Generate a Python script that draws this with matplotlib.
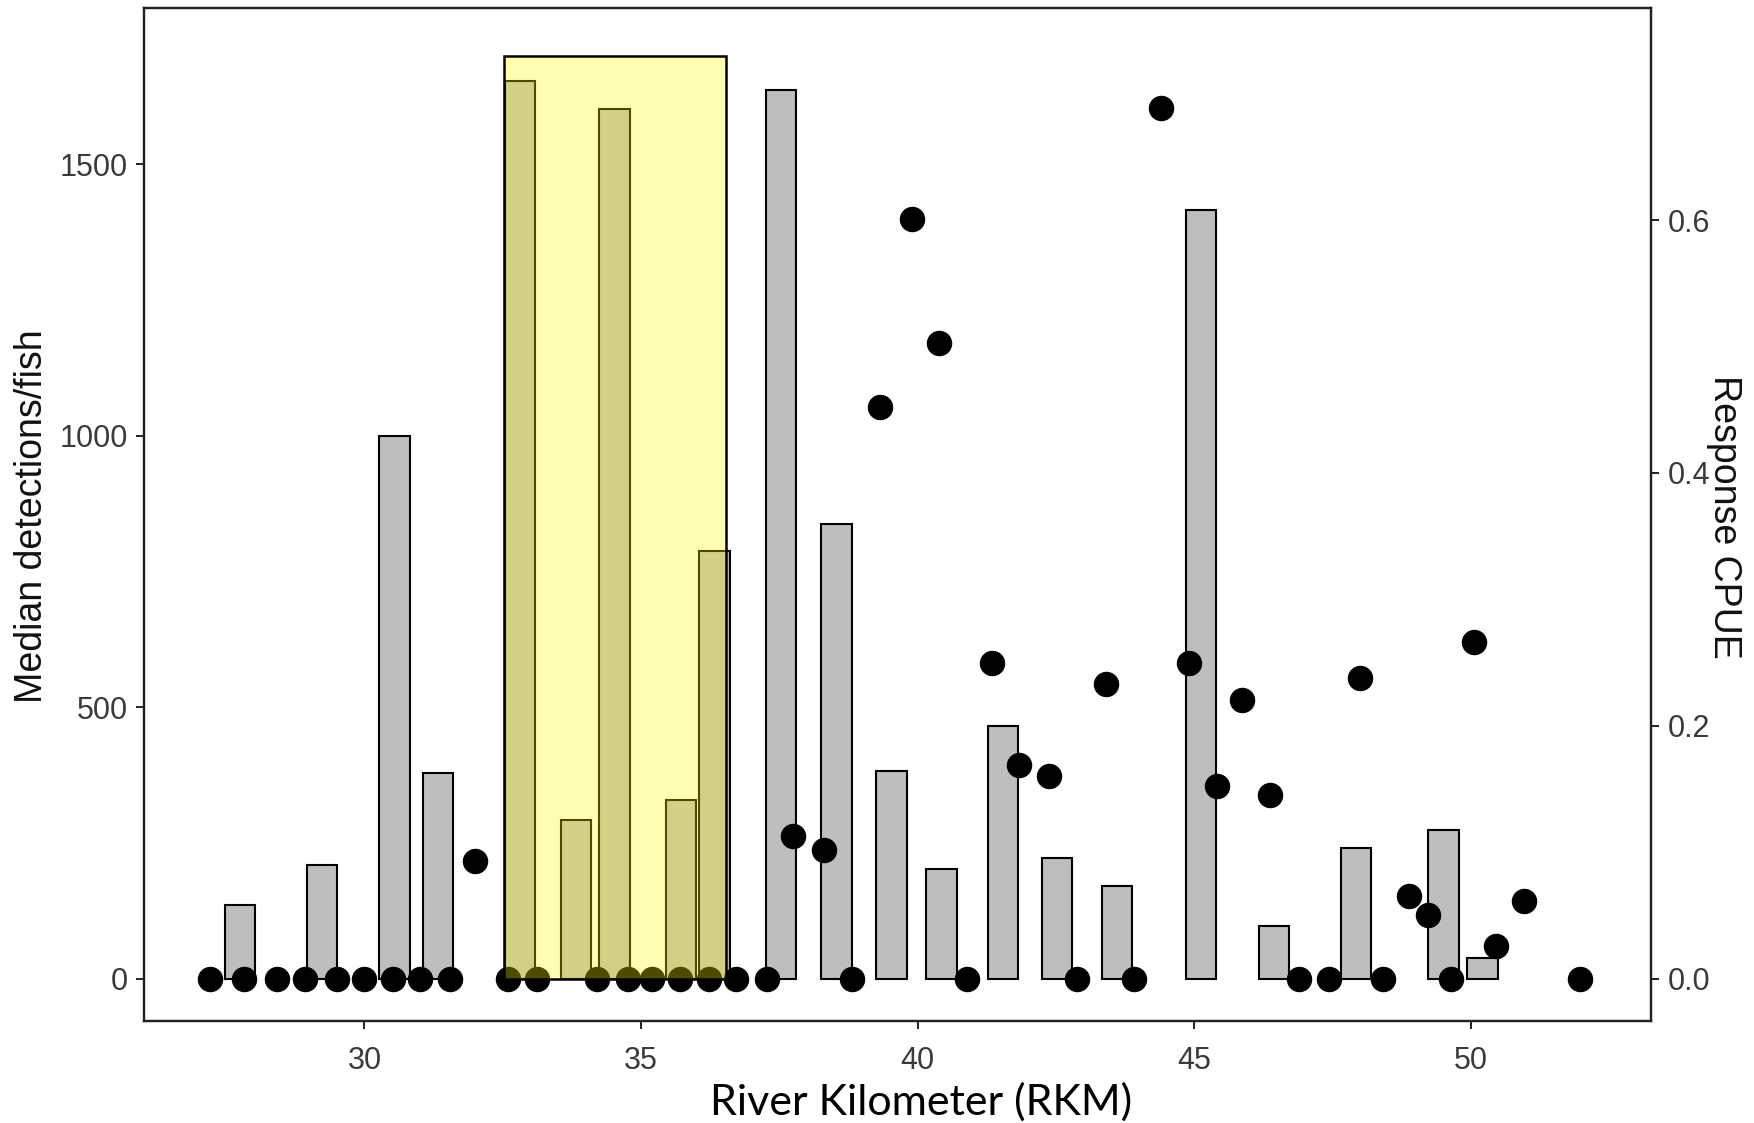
import matplotlib.pyplot as plt
from matplotlib.patches import Rectangle

# Median detections per fish at each receiver (bars, left axis)
bar_rkm = [27.75, 29.23, 30.54, 31.33, 32.81, 33.82, 34.52, 35.72, 36.33, 37.53, 38.53,
           39.53, 40.43, 41.54, 42.52, 43.61, 45.12, 46.44, 47.93, 49.51, 50.21]
median_detections = [136, 210, 1000, 379, 1654, 292, 1601, 328, 787, 1636, 838,
                     383, 202, 466, 222, 171, 1415, 97, 241, 274, 37]

# Response CPUE at each sampling site (points, right axis)
cpue_rkm = [27.21, 27.82, 28.42, 28.93, 29.51, 30.00, 30.51, 31.01, 31.54, 32.00,
            32.59, 33.12, 34.21, 34.76, 35.20, 35.71, 36.22, 36.72, 37.28, 37.75,
            38.31, 38.82, 39.32, 39.89, 40.39, 40.90, 41.34, 41.83, 42.38, 42.88,
            43.41, 43.91, 44.40, 44.90, 45.41, 45.87, 46.38, 46.89, 47.43, 48.00,
            48.42, 48.89, 49.23, 49.64, 50.06, 50.46, 50.97, 51.98]
cpue = [0, 0, 0, 0, 0, 0, 0, 0, 0, 0.093,
        0, 0, 0, 0, 0, 0, 0, 0, 0, 0.113,
        0.102, 0, 0.452, 0.601, 0.503, 0, 0.250, 0.169, 0.160, 0,
        0.233, 0, 0.689, 0.250, 0.152, 0.220, 0.145, 0, 0, 0.238,
        0, 0.065, 0.050, 0, 0.266, 0.026, 0.061, 0]

# Highlighted reach
reach_start, reach_end, reach_top = 32.53, 36.53, 1700

plt.rcParams["font.family"] = ["Liberation Sans", "DejaVu Sans"]

fig = plt.figure(figsize=(17.54, 11.23), dpi=100)
ax = fig.add_axes([0.0823, 0.0908, 0.8590, 0.9022])
ax2 = ax.twinx()

ax.bar(bar_rkm, median_detections, width=0.55, color="#BEBEBE",
       edgecolor="black", linewidth=1.5, zorder=2)
ax2.scatter(cpue_rkm, cpue, s=300, color="black", zorder=3)
ax2.add_patch(Rectangle((reach_start, 0), reach_end - reach_start, reach_top,
                        transform=ax.transData, facecolor=(1, 1, 0, 0.3),
                        edgecolor="black", linewidth=1.8, zorder=4))

ax.set_xlim(26.02, 53.26)
ax.set_ylim(-78.3, 1788)
ax2.set_ylim(-0.0336, 0.768)
ax.set_xticks([30, 35, 40, 45, 50])
ax.set_yticks([0, 500, 1000, 1500])
ax2.set_yticks([0.0, 0.2, 0.4, 0.6])
ax2.set_yticklabels(["0.0", "0.2", "0.4", "0.6"])

for a in (ax, ax2):
    for s in a.spines.values():
        s.set_linewidth(1.6)
        s.set_color("#222222")
    a.tick_params(labelsize=22, colors="#222222", labelcolor="#3A3A3A",
                  length=6, width=1.4, pad=6)
ax.tick_params(axis="x", pad=12)

fig.text(0.018, 0.54, "Median detections/fish", rotation=90, fontsize=27,
         ha="center", va="center", color="#111111")
fig.text(0.983, 0.54, "Response CPUE", rotation=270, fontsize=27,
         ha="center", va="center", color="#111111")
fig.text(0.525, 0.019, "River Kilometer (RKM)", fontsize=31, family="Lato",
         ha="center", va="center", color="black")

fig.savefig("out.png", dpi=100)
